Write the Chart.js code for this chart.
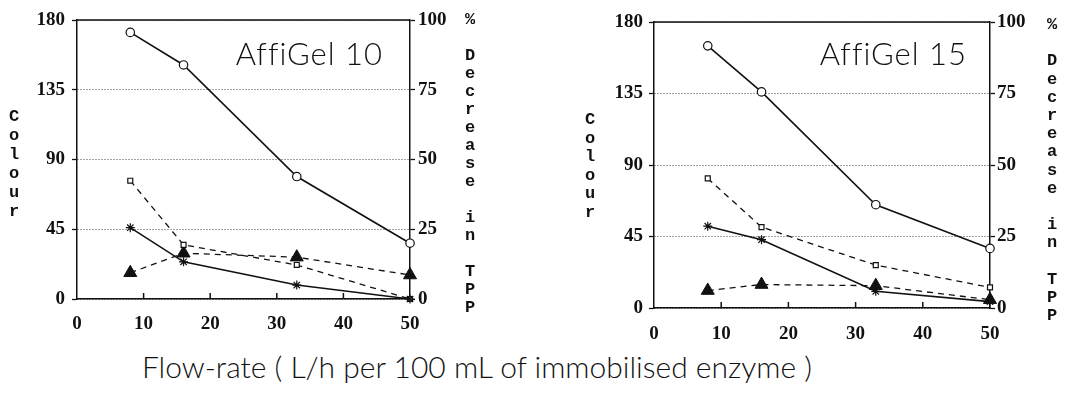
<!DOCTYPE html>
<html>
<head>
<meta charset="utf-8">
<script src="https://cdn.jsdelivr.net/npm/chart.js@4"></script>
<style>
  body { margin: 0; background: #fff; }
  #page { position: relative; width: 1074px; height: 396px; overflow: hidden; background: #fff; }
  canvas { position: absolute; top: 0; }
  .stack {
    position: absolute; white-space: pre; text-align: center;
    font-family: "Liberation Mono", monospace; font-weight: bold;
    font-size: 17px; line-height: 18px; color: #111;
  }
  #xtitle {
    position: absolute; left: 0; width: 954px; top: 349px; text-align: center;
    font-family: "Lato", "Liberation Sans", sans-serif; font-weight: 300;
    font-size: 30px; line-height: 34px; color: #111;
    font-variant-ligatures: none;
  }
</style>
</head>
<body>
<div id="page">
  <canvas id="gel10" width="540" height="345" style="left:0"></canvas>
  <canvas id="gel15" width="534" height="345" style="left:540px"></canvas>
  <div class="stack" style="left:9px;top:107px;line-height:19px">C
o
l
o
u
r</div>
  <div class="stack" style="left:465px;top:11px">%

D
e
c
r
e
a
s
e

i
n

T
P
P</div>
  <div class="stack" style="left:585px;top:111px;line-height:18.5px">C
o
l
o
u
r</div>
  <div class="stack" style="left:1047px;top:16px;line-height:18.2px">%

D
e
c
r
e
a
s
e

i
n

T
P
P</div>
  <div id="xtitle">Flow-rate ( L/h per 100 mL of immobilised enzyme )</div>
</div>
<script>
// flow rate, L/h per 100 mL
const flowRate = [8, 16, 33, 50];
const flowTicks = [0, 10, 20, 30, 40, 50];
const colourTicks = [0, 45, 90, 135, 180];
const tppTicks = [0, 25, 50, 75, 100];

// AffiGel 10
const gel10Circles = [172, 151, 79, 36];       // colour
const gel10Stars = [46, 24, 9, 0];             // colour
const gel10Squares = [42.4, 19.4, 12.2, 0];    // % decrease in TPP
const gel10Triangles = [9.4, 16.4, 15, 8.6];   // % decrease in TPP

// AffiGel 15
const gel15Circles = [165, 136, 65, 37.5];
const gel15Stars = [51.5, 43, 10.5, 4];
const gel15Squares = [45.3, 28.3, 15, 7.2];
const gel15Triangles = [6.1, 8.2, 7.8, 2.9];

Chart.defaults.font.family = "'Liberation Serif', serif";
Chart.defaults.font.weight = "bold";
Chart.defaults.font.size = 19;
Chart.defaults.color = "#111";

function pts(values) {
    return values.map((v, i) => ({ x: flowRate[i], y: v }));
}

function setTicks(list) {
    return scale => { scale.ticks = list.map(v => ({ value: v })); };
}

const framePlugin = {
    id: "frame",
    afterDraw(chart) {
        const ctx = chart.ctx;
        const a = chart.chartArea;
        const opts = chart.options.plugins.frame;
        ctx.save();
        ctx.strokeStyle = "#111";
        ctx.lineWidth = 1.5;
        ctx.beginPath();
        ctx.moveTo(a.left, a.top);
        ctx.lineTo(a.right, a.top);
        // small inner ticks on the flow-rate axis
        const xs = chart.scales.x;
        flowTicks.slice(1, -1).forEach(v => {
            const px = xs.getPixelForValue(v);
            ctx.moveTo(px, a.bottom);
            ctx.lineTo(px, a.bottom - 6);
        });
        ctx.stroke();

        ctx.fillStyle = "#111";
        ctx.font = "300 31px Lato, 'Liberation Sans', sans-serif";
        ctx.letterSpacing = "1px";
        ctx.textAlign = "right";
        ctx.textBaseline = "middle";
        ctx.fillText(opts.label, a.right - opts.labelRight, a.top + opts.labelTop);
        ctx.restore();
    }
};

function makeChart(id, label, data, lay) {
    const solid = { borderColor: "#111", borderWidth: 1.6, backgroundColor: "#fff", clip: false };
    const dashed = { borderColor: "#111", borderWidth: 1.3, borderDash: [6, 5], clip: false, yAxisID: "y1" };

    return new Chart(document.getElementById(id), {
        type: "line",
        data: {
            datasets: [
                { ...solid, data: pts(data.circles), pointStyle: "circle", pointRadius: 4.2,
                  pointBorderColor: "#111", pointBackgroundColor: "#fff", pointBorderWidth: 1.2 },
                { ...solid, data: pts(data.stars), pointStyle: "star", pointRadius: 4.5,
                  pointBorderColor: "#111", pointBorderWidth: 1.2 },
                { ...dashed, data: pts(data.squares), pointStyle: "rect", pointRadius: 3.5,
                  pointBorderColor: "#111", pointBackgroundColor: "#fff", pointBorderWidth: 1.2 },
                { ...dashed, data: pts(data.triangles), pointStyle: "triangle", pointRadius: 7.5,
                  pointBorderColor: "#111", pointBackgroundColor: "#111", pointBorderWidth: 1 }
            ]
        },
        options: {
            responsive: false,
            animation: false,
            layout: { padding: { top: lay.top, left: 0, right: 0, bottom: 0 } },
            plugins: {
                legend: { display: false },
                tooltip: { enabled: false },
                frame: { label, labelRight: lay.labelRight, labelTop: lay.labelTop }
            },
            scales: {
                x: {
                    type: "linear", min: 0, max: 50,
                    afterBuildTicks: setTicks(flowTicks),
                    afterFit: s => { s.height = lay.xHeight; },
                    grid: { display: false, drawTicks: false },
                    border: { display: true, color: "#111", width: 1.5 },
                    ticks: { padding: lay.xPad }
                },
                y: {
                    position: "left", min: 0, max: 180,
                    afterBuildTicks: setTicks(colourTicks),
                    afterFit: s => { s.width = lay.yWidth; },
                    grid: { color: "#444", lineWidth: 1, tickLength: 5,
                            tickColor: "#111", tickBorderDash: [], tickWidth: 1.3 },
                    border: { display: true, color: "#111", width: 1.5, dash: [1, 2] },
                    ticks: { padding: lay.yPad }
                },
                y1: {
                    position: "right", min: 0, max: 100,
                    afterBuildTicks: setTicks(tppTicks),
                    afterFit: s => { s.width = lay.y1Width; },
                    grid: { drawOnChartArea: false, tickLength: 5, color: "#111", tickWidth: 1.3 },
                    border: { display: true, color: "#111", width: 1.5 },
                    ticks: { padding: lay.y1Pad }
                }
            }
        },
        plugins: [framePlugin]
    });
}

makeChart("gel10", "AffiGel 10",
    { circles: gel10Circles, stars: gel10Stars, squares: gel10Squares, triangles: gel10Triangles },
    { top: 20, xHeight: 46, xPad: 14, yWidth: 77, yPad: 7, y1Width: 130, y1Pad: 3, labelRight: 27, labelTop: 35 });

makeChart("gel15", "AffiGel 15",
    { circles: gel15Circles, stars: gel15Stars, squares: gel15Squares, triangles: gel15Triangles },
    { top: 22, xHeight: 37, xPad: 15, yWidth: 114, yPad: 6, y1Width: 84, y1Pad: 2, labelRight: 23, labelTop: 33 });
</script>
</body>
</html>
